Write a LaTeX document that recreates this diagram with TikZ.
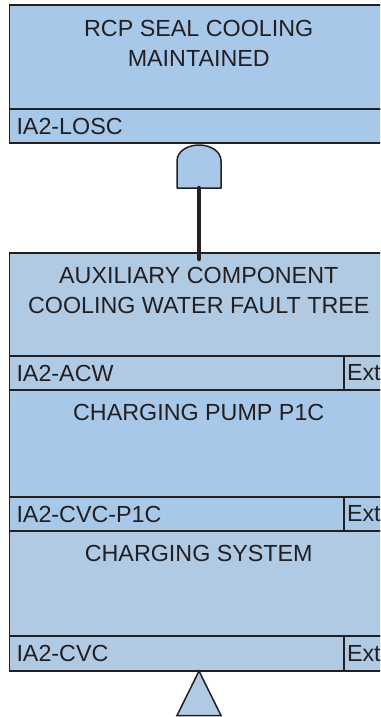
\documentclass[tikz,border=0pt]{standalone}
\usepackage{fontspec}
\setmainfont{Liberation Sans}
\usetikzlibrary{positioning}
\definecolor{lightblue}{RGB}{168,200,234}
\definecolor{greyblue}{RGB}{177,202,228}
\definecolor{edge}{RGB}{35,31,32}
\begin{document}
\begin{tikzpicture}[x=1pt,y=-1pt,
    every node/.style={inner sep=0pt, outer sep=0pt, text=edge},
    boxline/.style={draw=edge, line width=1.7pt, rectangle, anchor=north west},
    title/.style={font=\fontsize{23.3}{30}\selectfont, align=center, anchor=north},
    idtext/.style={font=\fontsize{23.3}{26}\selectfont, anchor=west}]
    \useasboundingbox (0,0) rectangle (380,717);
    \clip (0,0) rectangle (380,717);

    % top event
    \node [boxline, fill=lightblue, minimum width=378.5pt, minimum height=104pt] (losc) at (9.5,5) {};
    \node [boxline, fill=lightblue, minimum width=378.5pt, minimum height=34pt] (losc-id) at (9.5,109) {};
    \node [title, below=15pt of losc.north] {RCP SEAL COOLING\\MAINTAINED};
    \node [idtext, right=7pt of losc-id.west] {IA2-LOSC};

    % transfers
    \node [boxline, fill=greyblue, minimum width=378.5pt, minimum height=103pt] (acw) at (9.5,253) {};
    \node [boxline, fill=greyblue, minimum width=334.5pt, minimum height=34pt] (acw-id) at (9.5,356) {};
    \node [boxline, fill=greyblue, minimum width=44pt, minimum height=34pt] (acw-ext) at (344,356) {};
    \node [title, below=14pt of acw.north] {AUXILIARY COMPONENT\\COOLING WATER FAULT TREE};
    \node [idtext, right=7pt of acw-id.west] {IA2-ACW};\node [idtext, right=3pt of acw-ext.west] {Ext};

    \node [boxline, fill=lightblue, minimum width=378.5pt, minimum height=107pt] (p1c) at (9.5,390) {};
    \node [boxline, fill=lightblue, minimum width=334.5pt, minimum height=34pt] (p1c-id) at (9.5,497) {};
    \node [boxline, fill=lightblue, minimum width=44pt, minimum height=34pt] (p1c-ext) at (344,497) {};
    \node [title, below=14pt of p1c.north] {CHARGING PUMP P1C};
    \node [idtext, right=7pt of p1c-id.west] {IA2-CVC-P1C};\node [idtext, right=3pt of p1c-ext.west] {Ext};

    \node [boxline, fill=greyblue, minimum width=378.5pt, minimum height=105pt] (cvc) at (9.5,531) {};
    \node [boxline, fill=greyblue, minimum width=334.5pt, minimum height=35pt] (cvc-id) at (9.5,636) {};
    \node [boxline, fill=greyblue, minimum width=44pt, minimum height=35pt] (cvc-ext) at (344,636) {};
    \node [title, below=14pt of cvc.north] {CHARGING SYSTEM};
    \node [idtext, right=7pt of cvc-id.west] {IA2-CVC};\node [idtext, right=3pt of cvc-ext.west] {Ext};

    % and gate
    \coordinate (gate-top) at (199,145);\coordinate (gate-bot) at (199,188);
    \draw [draw=edge, line width=1.5pt, fill=lightblue, line join=round] (177,188) -- (177,161) .. controls (177,151) and (188,145) .. (gate-top) .. controls (210,145) and (221,151) .. (221,161) -- (221,188) -- cycle;
    \draw [edge, line width=4.5pt, line cap=round] (gate-bot) -- ([yshift=-6pt]acw.north -| gate-bot);

    % triangle
    \draw [draw=edge, line width=1.5pt, fill=greyblue, line join=miter] (cvc-id.south -| gate-bot) -- (221,715.5) -- (177,715.5) -- cycle;
\end{tikzpicture}
\end{document}
